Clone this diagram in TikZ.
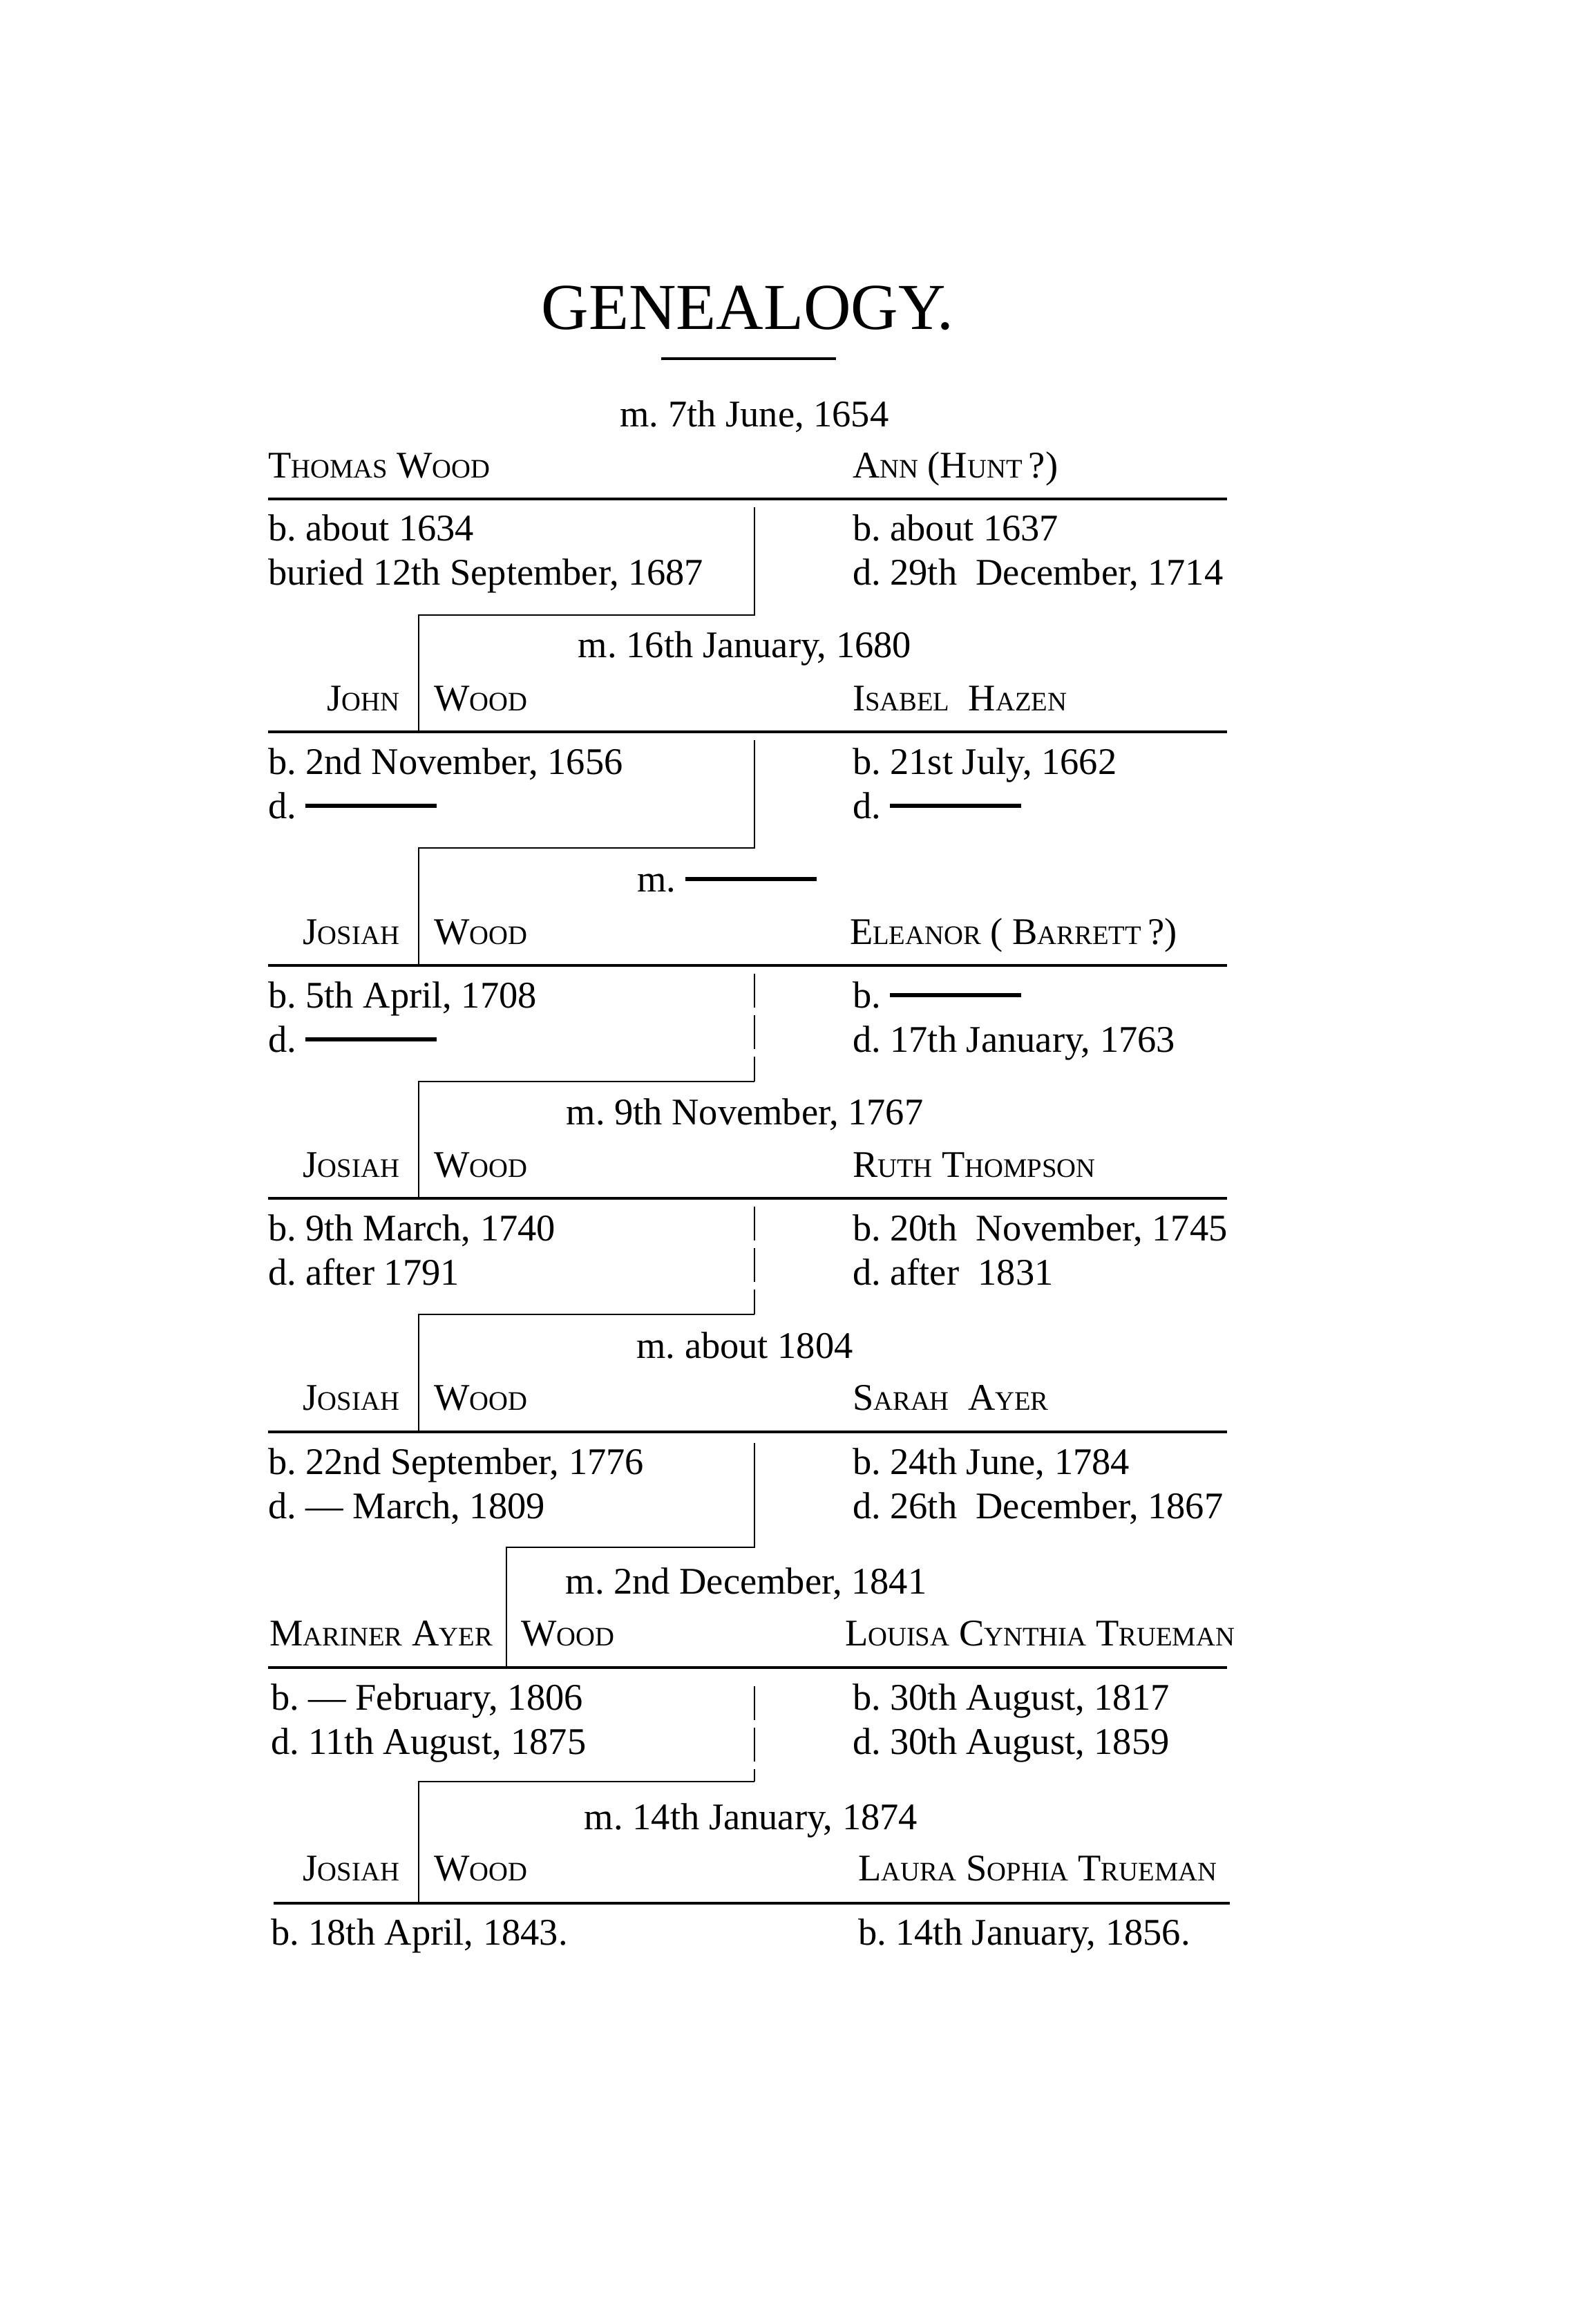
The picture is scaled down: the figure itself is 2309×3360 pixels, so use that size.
\documentclass[tikz,border=0pt]{standalone}
\usepackage{fontspec}
\setmainfont{Liberation Serif}
\newcommand\SCn[2]{#1{\fontsize{11}{12}\selectfont #2}}
\newcommand\blank[1]{\rule[0.27em]{#1}{0.6mm}}
\begin{document}
\frenchspacing
\begin{tikzpicture}[x=0.1mm,y=-0.1mm,
  every node/.style={inner sep=0pt,outer sep=0pt},
  titletxt/.style={anchor=base,font=\fontsize{27}{30}\selectfont},
  txt/.style={anchor=base west,font=\fontsize{15.5}{18}\selectfont},
  mtxt/.style={anchor=base,font=\fontsize{15.5}{18}\selectfont},
  nametxt/.style={anchor=base west,font=\fontsize{15.5}{18}\selectfont},
  namee/.style={anchor=base east,font=\fontsize{15.5}{18}\selectfont},
  rulel/.style={line width=1pt},
  conn/.style={line width=0.7pt},
  connd/.style={line width=0.7pt,dash pattern=on 14pt off 3pt}]
\useasboundingbox (0,0) rectangle (2309,3360);
\fill[white] (0,0) rectangle (2309,3360);

% title
\node[titletxt] (title) at (1082,476) {GENEALOGY.};
\coordinate (tra) at (957,519);
\coordinate (trb) at (1210,519);
\draw[rulel] (tra) -- (trb);

% ---------- Thomas Wood & Ann
\node[mtxt] (m1) at (1092,617) {m. 7th June, 1654};
\node[nametxt] (thomas) at (388,691) {\SCn{T}{HOMAS} \SCn{W}{OOD}};
\node[nametxt] (ann) at (1234,691) {\SCn{A}{NN} (\SCn{H}{UNT}\,?)};
\coordinate (r1a) at (388,722); \coordinate (r1b) at (1776,722);
\draw[rulel] (r1a) -- (r1b);
\node[txt] (b1l) at (388,782) {b. about 1634};
\node[txt] (d1l) at (388,846) {buried 12th September, 1687};
\node[txt] (b1r) at (1234,782) {b. about 1637};
\node[txt] (d1r) at (1234,846) {d. 29th\ \ December, 1714};
\coordinate (c1a) at (1092,734);
\coordinate (c1b) at (1092,890);
\coordinate (c1c) at (606,890);
\coordinate (c1d) at (606,1059);
\draw[conn] (c1a) -- (c1b) -- (c1c) -- (c1d);

% ---------- John Wood & Isabel Hazen
\node[mtxt] (m2) at (1078,951) {m. 16th January, 1680};
\node[namee] (john) at (578,1028) {\SCn{J}{OHN}};
\node[nametxt] (wood2) at (628,1028) {\SCn{W}{OOD}};
\node[nametxt] (isabel) at (1234,1028) {\SCn{I}{SABEL}\ \ \SCn{H}{AZEN}};
\coordinate (r2a) at (388,1059); \coordinate (r2b) at (1776,1059);
\draw[rulel] (r2a) -- (r2b);
\node[txt] (b2l) at (388,1120) {b. 2nd November, 1656};
\node[txt] (d2l) at (388,1184) {d. \blank{19mm}};
\node[txt] (b2r) at (1234,1120) {b. 21st July, 1662};
\node[txt] (d2r) at (1234,1184) {d. \blank{19mm}};
\coordinate (c2a) at (1092,1071);
\coordinate (c2b) at (1092,1227);
\coordinate (c2c) at (606,1227);
\coordinate (c2d) at (606,1397);
\draw[conn] (c2a) -- (c2b) -- (c2c) -- (c2d);

% ---------- Josiah Wood & Eleanor
\node[mtxt] (m3) at (1052,1290) {m. \blank{19mm}};
\node[namee] (josiah3) at (578,1366) {\SCn{J}{OSIAH}};
\node[nametxt] (wood3) at (628,1366) {\SCn{W}{OOD}};
\node[nametxt] (eleanor) at (1230,1366) {\SCn{E}{LEANOR} ( \SCn{B}{ARRETT}\,?)};
\coordinate (r3a) at (388,1397); \coordinate (r3b) at (1776,1397);
\draw[rulel] (r3a) -- (r3b);
\node[txt] (b3l) at (388,1458) {b. 5th April, 1708};
\node[txt] (d3l) at (388,1522) {d. \blank{19mm}};
\node[txt] (b3r) at (1234,1458) {b. \blank{19mm}};
\node[txt] (d3r) at (1234,1522) {d. 17th January, 1763};
\coordinate (c3a) at (1092,1409);
\coordinate (c3b) at (1092,1565);
\coordinate (c3c) at (606,1565);
\coordinate (c3d) at (606,1734);
\draw[connd] (c3a) -- (c3b);
\draw[conn] (c3b) -- (c3c) -- (c3d);

% ---------- Josiah Wood & Ruth Thompson
\node[mtxt] (m4) at (1078,1627) {m. 9th November, 1767};
\node[namee] (josiah4) at (578,1703) {\SCn{J}{OSIAH}};
\node[nametxt] (wood4) at (628,1703) {\SCn{W}{OOD}};
\node[nametxt] (ruth) at (1234,1703) {\SCn{R}{UTH} \SCn{T}{HOMPSON}};
\coordinate (r4a) at (388,1734); \coordinate (r4b) at (1776,1734);
\draw[rulel] (r4a) -- (r4b);
\node[txt] (b4l) at (388,1795) {b. 9th March, 1740};
\node[txt] (d4l) at (388,1859) {d. after 1791};
\node[txt] (b4r) at (1234,1795) {b. 20th\ \ November, 1745};
\node[txt] (d4r) at (1234,1859) {d. after\ \ 1831};
\coordinate (c4a) at (1092,1746);
\coordinate (c4b) at (1092,1902);
\coordinate (c4c) at (606,1902);
\coordinate (c4d) at (606,2072);
\draw[connd] (c4a) -- (c4b);
\draw[conn] (c4b) -- (c4c) -- (c4d);

% ---------- Josiah Wood & Sarah Ayer
\node[mtxt] (m5) at (1078,1965) {m. about 1804};
\node[namee] (josiah5) at (578,2040) {\SCn{J}{OSIAH}};
\node[nametxt] (wood5) at (628,2040) {\SCn{W}{OOD}};
\node[nametxt] (sarah) at (1234,2040) {\SCn{S}{ARAH}\ \ \SCn{A}{YER}};
\coordinate (r5a) at (388,2072); \coordinate (r5b) at (1776,2072);
\draw[rulel] (r5a) -- (r5b);
\node[txt] (b5l) at (388,2133) {b. 22nd September, 1776};
\node[txt] (d5l) at (388,2197) {d. --- March, 1809};
\node[txt] (b5r) at (1234,2133) {b. 24th June, 1784};
\node[txt] (d5r) at (1234,2197) {d. 26th\ \ December, 1867};
\coordinate (c5a) at (1092,2088);
\coordinate (c5b) at (1092,2239);
\coordinate (c5c) at (733,2239);
\coordinate (c5d) at (733,2413);
\draw[conn] (c5a) -- (c5b) -- (c5c) -- (c5d);

% ---------- Mariner Ayer Wood & Louisa Cynthia Trueman
\node[mtxt] (m6) at (1080,2306) {m. 2nd December, 1841};
\node[namee] (mariner) at (713,2381) {\SCn{M}{ARINER} \SCn{A}{YER}};
\node[nametxt] (wood6) at (754,2381) {\SCn{W}{OOD}};
\node[nametxt] (louisa) at (1223,2381) {\SCn{L}{OUISA} \SCn{C}{YNTHIA} \SCn{T}{RUEMAN}};
\coordinate (r6a) at (388,2413); \coordinate (r6b) at (1776,2413);
\draw[rulel] (r6a) -- (r6b);
\node[txt] (b6l) at (392,2474) {b. --- February, 1806};
\node[txt] (d6l) at (392,2538) {d. 11th August, 1875};
\node[txt] (b6r) at (1234,2474) {b. 30th August, 1817};
\node[txt] (d6r) at (1234,2538) {d. 30th August, 1859};
\coordinate (c6a) at (1092,2440);
\coordinate (c6b) at (1092,2578);
\coordinate (c6c) at (606,2578);
\coordinate (c6d) at (606,2754);
\draw[connd] (c6a) -- (c6b);
\draw[conn] (c6b) -- (c6c) -- (c6d);

% ---------- Josiah Wood & Laura Sophia Trueman
\node[mtxt] (m7) at (1087,2647) {m. 14th January, 1874};
\node[namee] (josiah7) at (578,2721) {\SCn{J}{OSIAH}};
\node[nametxt] (wood7) at (628,2721) {\SCn{W}{OOD}};
\node[nametxt] (laura) at (1242,2721) {\SCn{L}{AURA} \SCn{S}{OPHIA} \SCn{T}{RUEMAN}};
\coordinate (r7a) at (396,2754); \coordinate (r7b) at (1780,2754);
\draw[rulel] (r7a) -- (r7b);
\node[txt] (b7l) at (392,2814) {b. 18th April, 1843.};
\node[txt] (b7r) at (1242,2814) {b. 14th January, 1856.};
\end{tikzpicture}
\end{document}
